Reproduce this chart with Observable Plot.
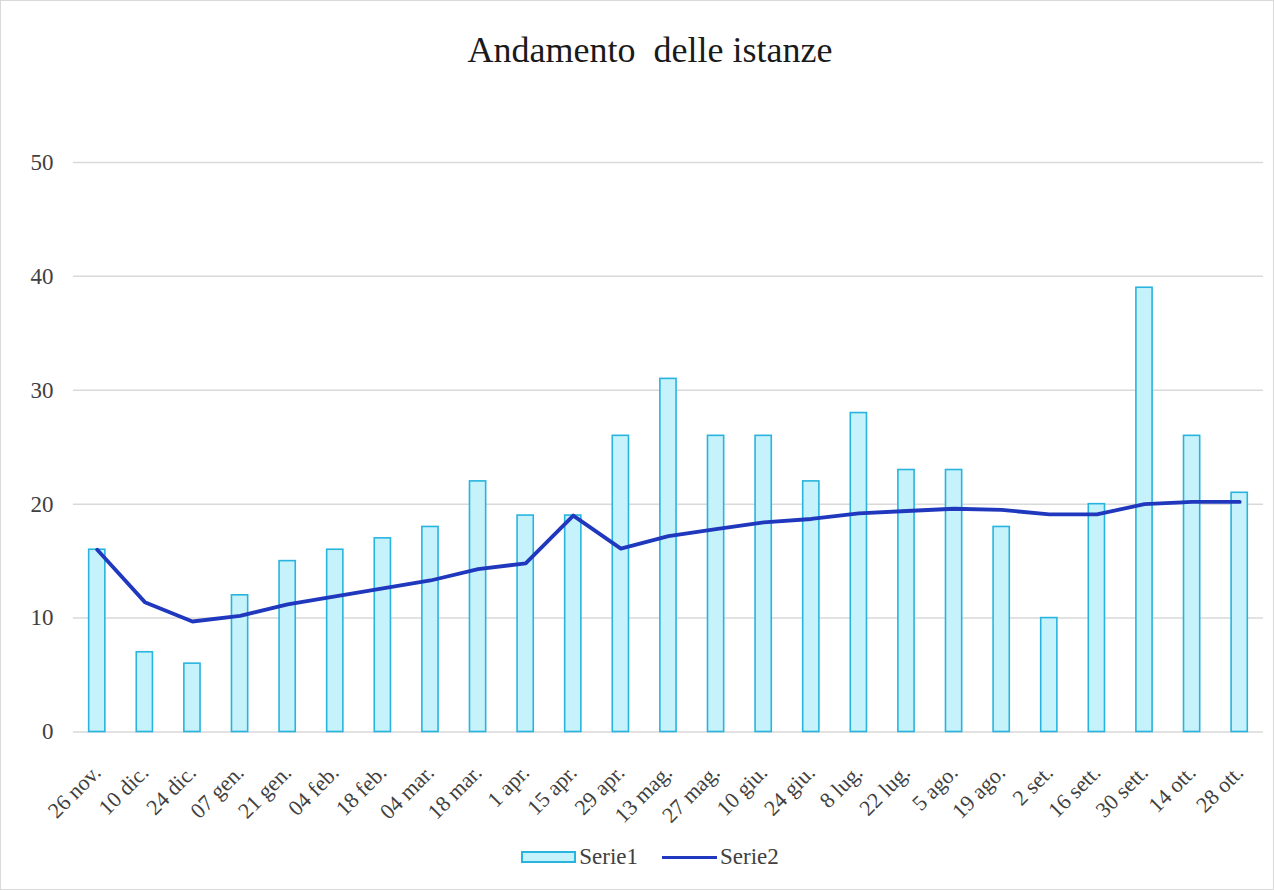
<!DOCTYPE html>
<html>
<head>
<meta charset="utf-8">
<script src="https://cdn.jsdelivr.net/npm/d3@7"></script>
<script src="https://cdn.jsdelivr.net/npm/@observablehq/plot@0.6"></script>
<style>
  html, body { margin: 0; padding: 0; background: #fff; }
  #frame { position: relative; width: 1272px; height: 888px; border: 1px solid #d9d9d9; box-sizing: content-box; overflow: hidden; font-family: "Liberation Serif", "DejaVu Serif", serif; }
  #title { position: absolute; left: 0; top: 28px; width: 1298px; text-align: center; font-size: 36px; line-height: 42px; color: #1a1a1a; }
  #chart { position: absolute; left: -1px; top: 99px; }
  #legend { position: absolute; left: 0; top: 843px; width: 1298px; display: flex; justify-content: center; align-items: center; font-size: 23px; line-height: 26px; color: #404040; }
  .sw-bar { display: inline-block; width: 51px; height: 8px; background: #c6f2fb; border: 2px solid #28b4df; margin-right: 3px; }
  .sw-line { display: inline-block; width: 55px; height: 3px; background: #2139c0; margin-left: 24px; margin-right: 3px; }
</style>
</head>
<body>
<div id="frame">
  <div id="title">Andamento&nbsp; delle istanze</div>
  <div id="chart"></div>
  <div id="legend"><span class="sw-bar"></span><span>Serie1</span><span class="sw-line"></span><span>Serie2</span></div>
</div>
<script>
const categories = ["26 nov.", "10 dic.", "24 dic.", "07 gen.", "21 gen.", "04 feb.", "18 feb.", "04 mar.", "18 mar.", "1 apr.", "15 apr.", "29 apr.", "13 mag.", "27 mag.", "10 giu.", "24 giu.", "8 lug.", "22 lug.", "5 ago.", "19 ago.", "2 set.", "16 sett.", "30 sett.", "14 ott.", "28 ott."];
const serie1 = [16, 7, 6, 12, 15, 16, 17, 18, 22, 19, 19, 26, 31, 26, 26, 22, 28, 23, 23, 18, 10, 20, 39, 26, 21];
const serie2 = [16, 11.4, 9.7, 10.2, 11.2, 11.9, 12.6, 13.3, 14.3, 14.8, 19.0, 16.1, 17.2, 17.8, 18.4, 18.7, 19.2, 19.4, 19.6, 19.5, 19.1, 19.1, 20.0, 20.2, 20.2];
const yTicks = [0, 10, 20, 30, 40, 50];

const data = categories.map((c, i) => ({cat: c, s1: serie1[i], s2: serie2[i]}));

const chart = Plot.plot({
  width: 1274,
  height: 760,
  marginTop: 62,
  marginBottom: 128,
  marginLeft: 73,
  marginRight: 10,
  style: {fontFamily: "'Liberation Serif', 'DejaVu Serif', serif", background: "transparent"},
  x: {domain: categories, paddingInner: 0.66, paddingOuter: 0.33, round: false},
  y: {domain: [0, 50]},
  marks: [
    Plot.gridY(yTicks, {stroke: "#d9d9d9", strokeOpacity: 1, strokeWidth: 1.5}),
    Plot.axisY(yTicks, {label: null, tickSize: 0, tickPadding: 20, fontSize: 23, fill: "#404040"}),
    Plot.axisX({label: null, tickSize: 0, tickRotate: -45, tickPadding: 37, fontSize: 22, fill: "#404040"}),
    Plot.barY(data, {x: "cat", y: "s1", fill: "#c6f2fb", stroke: "#28b4df", strokeWidth: 1.6}),
    Plot.lineY(data, {x: "cat", y: "s2", stroke: "#1f38bd", strokeWidth: 3.8, strokeLinejoin: "round", strokeLinecap: "round"})
  ]
});
document.getElementById("chart").appendChild(chart);
</script>
</body>
</html>
